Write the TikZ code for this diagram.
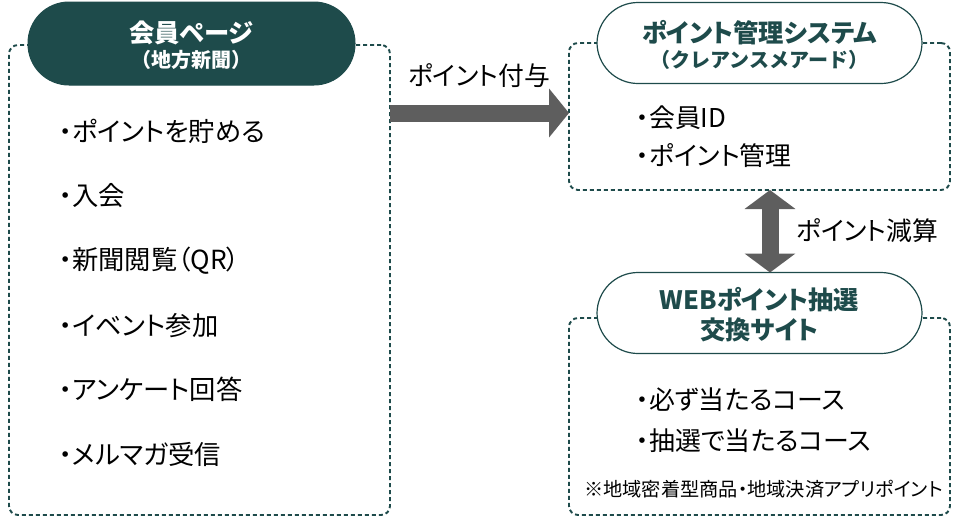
\documentclass[tikz,border=0pt]{standalone}
\usepackage{fontspec}
\setmainfont{Noto Sans CJK JP}
\newfontfamily\jp[RawFeature=+palt]{Noto Sans CJK JP}
\usetikzlibrary{arrows.meta}
\definecolor{tealdk}{HTML}{1E4B4B}
\definecolor{arrowgrey}{HTML}{5E5E5E}
\begin{document}
\begin{tikzpicture}[x=1pt,y=-1pt,
  dbox/.style={draw=tealdk, line width=1.9pt, dash pattern=on 4pt off 3pt,
    rounded corners=9pt, inner sep=0pt, outer sep=0pt},
  darkpill/.style={fill=tealdk, draw=tealdk, line width=1pt, rounded corners=41pt,
    minimum width=327pt, minimum height=83pt, inner sep=0pt, outer sep=0pt},
  lightpill/.style={fill=white, draw=tealdk, line width=1.2pt, rounded corners=41pt,
    minimum width=325pt, minimum height=81pt, inner sep=0pt, outer sep=0pt},
  hbig/.style={font=\fontsize{25.3}{28}\selectfont\bfseries\jp, inner sep=0pt},
  hsmall/.style={font=\fontsize{20}{22}\selectfont\bfseries, inner sep=0pt},
  litem/.style={font=\fontsize{26.3}{29}\selectfont\jp, anchor=west, inner sep=0pt, text=black},
  ritem/.style={font=\fontsize{25.9}{28}\selectfont\jp, anchor=west, inner sep=0pt, text=black},
  lab/.style={font=\fontsize{25.8}{28}\selectfont\jp, inner sep=0pt, text=black},
  note/.style={font=\fontsize{19.2}{21}\selectfont\jp, anchor=west, inner sep=0pt, text=black},
  garrow/.style={draw=arrowgrey, line width=17pt},
]
\useasboundingbox (0,0) rectangle (960,520);

% dashed boxes
\node[dbox, minimum width=381pt, minimum height=470pt] (lbox) at (199.5,280) {};
\node[dbox, minimum width=381pt, minimum height=147pt] (rtbox) at (759.5,116.5) {};
\node[dbox, minimum width=381pt, minimum height=197pt] (rbbox) at (759.5,416.5) {};

% pills
\node[darkpill] (lpill) at (191.5,43.5) {};
\node[hbig, text=white] (lp1) at (191.5,33) {会員ページ};
\node[hsmall, text=white] (lp2) at (191.5,60) {（地方新聞）};

\node[lightpill] (rtpill) at (759.5,43) {};
\node[hbig, text=tealdk] (rp1) at (759.5,33) {ポイント管理システム};
\node[hsmall, text=tealdk] (rp2) at (759.5,60) {（クレアンスメアード）};

\node[lightpill] (rbpill) at (759.5,313) {};
\node[hbig, text=tealdk] (bp1) at (759.5,300) {WEBポイント抽選};
\node[hbig, text=tealdk] (bp2) at (759.5,330) {交換サイト};

% left items
\node[litem] (i1) at (59,131) {・ポイントを貯める};
\node[litem] (i2) at (59,196) {・入会};
\node[litem] (i3) at (59,261) {・新聞閲覧（QR）};
\node[litem] (i4) at (59,326) {・イベント参加};
\node[litem] (i5) at (59,389) {・アンケート回答};
\node[litem] (i6) at (59,454) {・メルマガ受信};

% right items
\node[ritem] (r1) at (636,118) {・会員ID};
\node[ritem] (r2) at (636,156) {・ポイント管理};
\node[ritem] (r3) at (636,400) {・必ず当たるコース};
\node[ritem] (r4) at (636,441) {・抽選で当たるコース};
\node[note] (n1) at (584,489) {※地域密着型商品・地域決済アプリポイント};

% arrows
\coordinate (ay) at (0,113);
\coordinate (vx) at (770,0);
\draw[garrow, -{Triangle[width=48pt,length=20pt]}] (lbox.east |- ay) -- (rtbox.west |- ay);
\draw[garrow, {Triangle[width=50pt,length=19pt]}-{Triangle[width=50pt,length=19pt]}]
  (rtbox.south -| vx) -- (rbpill.north -| vx);

\node[lab] (l1) at (479,76) {ポイント付与};
\node[lab, anchor=west] (l2) at (796,231) {ポイント減算};
\end{tikzpicture}
\end{document}
